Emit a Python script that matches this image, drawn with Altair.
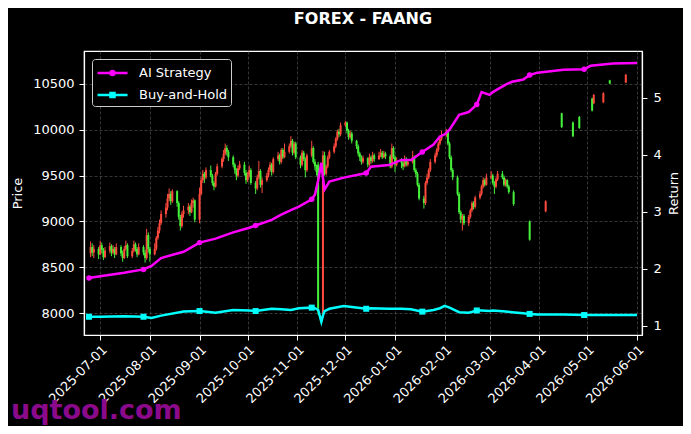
import altair as alt
import pandas as pd

# ---------------- data ----------------
# daily candles (business days 2025-06-25 .. 2026-03-16), one line per week
opens = [
    8650, 8720, 8660,
    8700, 8640, 8740, 8690, 8610,
    8680, 8730, 8660, 8700, 8640,
    8720, 8650, 8600, 8700, 8740,
    8620, 8680, 8750, 8700, 8640,
    8720, 8660, 8600, 8850, 8700,
    8640, 8700, 8820, 8900, 8980,
    9080, 9150, 9250, 9300, 9220,
    9330, 9200, 9050, 8950, 9080,
    9120, 9160, 9100, 9200, 9230,
    9020, 9300, 9450, 9520, 9480,
    9560, 9500, 9420, 9380, 9520,
    9600, 9680, 9740, 9800, 9760,
    9700, 9620, 9560, 9500, 9580,
    9620, 9530, 9450, 9500, 9560,
    9420, 9360, 9480, 9550, 9400,
    9450, 9500, 9560, 9620, 9540,
    9680, 9720, 9650, 9780, 9700,
    9760, 9820, 9880, 9750, 9850,
    9700, 9620, 9750, 9680, 9560,
    9720, 9800, 9650, 9600, 9620,
    8000, 9720, 9520, 9600, 9700,
    9760, 9820, 9900, 9980, 9950,
    10050, 10080, 9990, 9920, 9960,
    9880, 9820, 9740, 9700, 9650,
    9690, 9620, 9700, 9660, 9720,
    9680, 9720, 9750, 9700, 9740,
    9710, 9600, 9800, 9700, 9620,
    9660, 9640, 9600, 9680, 9620,
    9650, 9700, 9560, 9520, 9400,
    9250, 9200, 9420, 9480, 9560,
    9650, 9720, 9780, 9850, 9900,
    9940, 9980, 9850, 9700, 9560,
    9480, 9300, 9100, 9020, 9060,
    8980, 9050, 9120, 9200, 9160,
    9260, 9300, 9380, 9450, 9400,
    9480, 9500, 9420, 9380, 9460,
    9520, 9480, 9400, 9450, 9380,
    9320,
]
highs = [
    8780, 8760, 8740,
    8720, 8790, 8770, 8710, 8720,
    8770, 8750, 8740, 8720, 8760,
    8740, 8680, 8730, 8790, 8760,
    8710, 8790, 8770, 8720, 8760,
    8740, 8690, 8920, 8880, 8720,
    8760, 8840, 8940, 9020, 9120,
    9200, 9300, 9360, 9330, 9350,
    9340, 9220, 9070, 9110, 9170,
    9200, 9180, 9240, 9260, 9240,
    9370, 9480, 9560, 9540, 9590,
    9610, 9520, 9440, 9540, 9630,
    9700, 9780, 9850, 9830, 9780,
    9720, 9640, 9580, 9610, 9660,
    9650, 9560, 9540, 9610, 9580,
    9440, 9510, 9660, 9570, 9480,
    9530, 9590, 9650, 9640, 9700,
    9760, 9740, 9800, 9800, 9850,
    9850, 9930, 9900, 9870, 9870,
    9720, 9780, 9770, 9700, 9740,
    9880, 9820, 9680, 9620, 9650,
    9770, 9760, 9620, 9720, 9780,
    9850, 9920, 10000, 10010, 10080,
    10100, 10090, 10010, 9990, 9980,
    9890, 9840, 9760, 9720, 9720,
    9700, 9740, 9720, 9760, 9740,
    9760, 9790, 9770, 9770, 9760,
    9730, 9850, 9820, 9720, 9700,
    9690, 9660, 9720, 9700, 9680,
    9770, 9720, 9580, 9540, 9420,
    9280, 9440, 9520, 9580, 9680,
    9750, 9800, 9870, 9920, 9990,
    10010, 10000, 9870, 9720, 9580,
    9500, 9320, 9120, 9080, 9080,
    9070, 9140, 9220, 9220, 9280,
    9330, 9400, 9480, 9470, 9520,
    9550, 9520, 9440, 9480, 9550,
    9550, 9500, 9470, 9460, 9400,
    9340,
]
lows = [
    8610, 8620, 8600,
    8590, 8630, 8650, 8580, 8600,
    8650, 8620, 8640, 8600, 8630,
    8620, 8560, 8590, 8680, 8600,
    8600, 8660, 8670, 8610, 8630,
    8630, 8550, 8580, 8660, 8560,
    8630, 8680, 8800, 8870, 8960,
    9040, 9120, 9220, 9180, 9200,
    9160, 9020, 8900, 8930, 9040,
    9080, 9060, 9090, 9150, 8990,
    8980, 9280, 9420, 9420, 9460,
    9480, 9390, 9340, 9370, 9500,
    9580, 9650, 9720, 9720, 9660,
    9590, 9520, 9450, 9480, 9560,
    9500, 9410, 9430, 9480, 9400,
    9300, 9340, 9460, 9370, 9310,
    9430, 9480, 9540, 9500, 9520,
    9660, 9620, 9630, 9680, 9690,
    9740, 9800, 9720, 9730, 9680,
    9580, 9600, 9660, 9480, 9540,
    9700, 9630, 9560, 9500, 7980,
    7960, 9500, 9500, 9580, 9680,
    9740, 9800, 9880, 9920, 9930,
    10030, 9960, 9890, 9900, 9850,
    9790, 9710, 9660, 9620, 9630,
    9590, 9600, 9630, 9640, 9650,
    9670, 9700, 9680, 9690, 9680,
    9580, 9580, 9680, 9540, 9600,
    9580, 9560, 9590, 9600, 9600,
    9630, 9540, 9480, 9380, 9230,
    9140, 9180, 9400, 9460, 9540,
    9630, 9700, 9760, 9830, 9880,
    9920, 9830, 9680, 9540, 9450,
    9280, 9080, 8980, 8900, 8960,
    8950, 9030, 9100, 9130, 9140,
    9240, 9280, 9360, 9380, 9390,
    9460, 9400, 9300, 9360, 9440,
    9460, 9380, 9380, 9360, 9300,
    9170,
]
closes = [
    8720, 8660, 8700,
    8640, 8740, 8690, 8610, 8680,
    8730, 8660, 8700, 8640, 8720,
    8650, 8600, 8700, 8740, 8620,
    8680, 8750, 8700, 8640, 8720,
    8660, 8600, 8850, 8700, 8640,
    8700, 8820, 8900, 8980, 9080,
    9150, 9250, 9300, 9220, 9330,
    9200, 9050, 8950, 9080, 9120,
    9160, 9100, 9200, 9230, 9020,
    9300, 9450, 9520, 9480, 9560,
    9500, 9420, 9380, 9520, 9600,
    9680, 9740, 9800, 9760, 9700,
    9620, 9560, 9500, 9580, 9620,
    9530, 9450, 9500, 9560, 9420,
    9360, 9480, 9550, 9400, 9450,
    9500, 9560, 9620, 9540, 9680,
    9720, 9650, 9780, 9700, 9760,
    9820, 9880, 9750, 9850, 9700,
    9620, 9750, 9680, 9560, 9720,
    9800, 9650, 9600, 9540, 8050,
    9720, 9520, 9600, 9700, 9760,
    9820, 9900, 9980, 9950, 10050,
    10080, 9990, 9920, 9960, 9880,
    9820, 9740, 9700, 9650, 9690,
    9620, 9700, 9660, 9720, 9680,
    9720, 9750, 9700, 9740, 9710,
    9600, 9800, 9700, 9620, 9660,
    9640, 9600, 9680, 9620, 9650,
    9700, 9560, 9520, 9400, 9250,
    9200, 9420, 9480, 9560, 9650,
    9720, 9780, 9850, 9900, 9940,
    9980, 9850, 9700, 9560, 9480,
    9300, 9100, 9020, 9060, 8980,
    9050, 9120, 9200, 9160, 9260,
    9300, 9380, 9450, 9400, 9480,
    9500, 9420, 9380, 9460, 9520,
    9480, 9400, 9450, 9380, 9320,
    9190,
]

# later, sparse candles
sparse_dates = ["2026-03-26", "2026-04-05", "2026-04-15", "2026-04-22", "2026-04-26",
                "2026-05-04", "2026-05-05", "2026-05-11", "2026-05-15", "2026-05-25"]
sparse_open = [9000, 9110, 10180, 10080, 10140, 10340, 10290, 10300, 10540, 10515]
sparse_high = [9010, 9230, 10185, 10090, 10150, 10350, 10390, 10410, 10545, 10610]
sparse_low = [8790, 9100, 10020, 9920, 10010, 10200, 10280, 10290, 10500, 10510]
sparse_close = [8800, 9220, 10030, 9930, 10020, 10210, 10380, 10400, 10505, 10600]

# cumulative return series
ret_dates = ["2025-06-24", "2025-07-01", "2025-07-16", "2025-07-28", "2025-08-02", "2025-08-08",
             "2025-08-22", "2025-09-01", "2025-09-11", "2025-09-22", "2025-10-02", "2025-10-06",
             "2025-10-16", "2025-10-22", "2025-10-28", "2025-11-02", "2025-11-10", "2025-11-12",
             "2025-11-14", "2025-11-16", "2025-11-17", "2025-11-18", "2025-11-21", "2025-11-30",
             "2025-12-14", "2025-12-17", "2025-12-28", "2026-01-05", "2026-01-11", "2026-01-18",
             "2026-01-25", "2026-01-29", "2026-02-01", "2026-02-04", "2026-02-10", "2026-02-16",
             "2026-02-21", "2026-02-24", "2026-03-01", "2026-03-03", "2026-03-11", "2026-03-15",
             "2026-03-22", "2026-03-26", "2026-03-31", "2026-04-16", "2026-04-29", "2026-05-03",
             "2026-05-17", "2026-06-01"]
ai_strategy = [1.84, 1.87, 1.93, 1.99, 2.05, 2.19,
               2.30, 2.46, 2.53, 2.64, 2.72, 2.76,
               2.86, 2.95, 3.03, 3.09, 3.22, 3.30,
               3.55, 3.86, 3.60, 3.39, 3.53, 3.60,
               3.68, 3.79, 3.82, 3.91, 3.91, 4.05,
               4.18, 4.32, 4.36, 4.44, 4.70, 4.75,
               4.88, 5.10, 5.05, 5.10, 5.23, 5.28,
               5.32, 5.40, 5.44, 5.49, 5.50, 5.56,
               5.60, 5.61]
buy_hold = [1.16, 1.16, 1.17, 1.16, 1.14, 1.18,
            1.25, 1.26, 1.23, 1.28, 1.27, 1.26,
            1.30, 1.29, 1.28, 1.31, 1.32, 1.31,
            1.28, 1.07, 1.18, 1.26, 1.30, 1.35,
            1.30, 1.31, 1.30, 1.30, 1.29, 1.25,
            1.28, 1.31, 1.35, 1.32, 1.24, 1.23,
            1.27, 1.27, 1.26, 1.27, 1.25, 1.24,
            1.22, 1.21, 1.20, 1.20, 1.19, 1.19,
            1.19, 1.19]
marker_dates = ["2025-06-24", "2025-07-28", "2025-09-01", "2025-10-06", "2025-11-10",
                "2025-12-14", "2026-01-18", "2026-02-21", "2026-03-26", "2026-04-29"]

series_names = ["AI Strategy", "Buy-and-Hold"]
series_colors = ["#ff00ff", "#00ffff"]
price_ticks = [8000, 8500, 9000, 9500, 10000, 10500]
return_ticks = [1, 2, 3, 4, 5]
month_ticks = [(2025, 7), (2025, 8), (2025, 9), (2025, 10), (2025, 11), (2025, 12),
               (2026, 1), (2026, 2), (2026, 3), (2026, 4), (2026, 5), (2026, 6)]

UP = "#ff4a3d"    # rising candle (red)
DOWN = "#45f03a"  # falling candle (green)

# ---------------- tables ----------------
main_dates = pd.bdate_range("2025-06-25", "2026-03-16").strftime("%Y-%m-%d").tolist()
n = min(len(main_dates), len(opens), len(highs), len(lows), len(closes))
cdf = pd.DataFrame({
    "date": main_dates[:n] + sparse_dates,
    "o": opens[:n] + sparse_open,
    "h": highs[:n] + sparse_high,
    "l": lows[:n] + sparse_low,
    "c": closes[:n] + sparse_close,
})
cdf["col"] = [UP if c >= o else DOWN for o, c in zip(cdf["o"], cdf["c"])]

rdf = pd.concat([
    pd.DataFrame({"date": ret_dates, "series": series_names[0], "value": ai_strategy}),
    pd.DataFrame({"date": ret_dates, "series": series_names[1], "value": buy_hold}),
], ignore_index=True)
mdf = rdf[rdf["date"].isin(marker_dates)]
mdf_ai = mdf[mdf["series"] == series_names[0]]
mdf_bh = mdf[mdf["series"] == series_names[1]]
ldf = pd.DataFrame({"date": ["2024-01-01", "2024-01-01"], "series": series_names, "value": [3, 3]})

# ---------------- encodings ----------------
FONT = "DejaVu Sans"
def dt(y, m, d=1):
    return alt.DateTime(year=y, month=m, date=d, utc=True)

xscale = alt.Scale(type="utc", domain=[dt(2025, 6, 24), dt(2026, 6, 1)], nice=False)
xaxis = alt.Axis(values=[dt(y, m) for y, m in month_ticks], format="%Y-%m-%d",
                 labelAngle=315, labelAlign="right", labelBaseline="top", labelPadding=3,
                 labelOverlap=False, labelFontSize=13, grid=True, title=None)
x_enc = alt.X("date:T", scale=xscale, axis=xaxis)

pscale = alt.Scale(domain=[7760, 10860], nice=False, zero=False)
paxis = alt.Axis(values=price_ticks, format="d", grid=True, title="Price", titlePadding=8,
                 labelPadding=5)
rscale = alt.Scale(domain=[0.84, 5.82], nice=False, zero=False)
raxis = alt.Axis(values=return_ticks, format="d", grid=False, orient="right", title="Return",
                 titleAngle=270, titleBaseline="top", titlePadding=6, labelPadding=6)

cscale = alt.Scale(domain=series_names, range=series_colors)

wick = alt.Chart(cdf).mark_rule(strokeWidth=1).encode(
    x=x_enc, y=alt.Y("l:Q", scale=pscale, axis=paxis), y2="h:Q",
    color=alt.Color("col:N", scale=None))
body = alt.Chart(cdf).mark_bar(size=2).encode(
    x=x_enc, y=alt.Y("o:Q", scale=pscale, axis=paxis), y2="c:Q",
    color=alt.Color("col:N", scale=None))
candles = alt.layer(wick, body)

yr = alt.Y("value:Q", scale=rscale, axis=raxis)
lines = alt.Chart(rdf).mark_line(strokeWidth=2.5).encode(
    x=x_enc, y=yr, color=alt.Color("series:N", scale=cscale, legend=None))
pts_ai = alt.Chart(mdf_ai).mark_point(shape="circle", filled=True, size=30, opacity=1).encode(
    x=x_enc, y=yr, color=alt.value(series_colors[0]))
pts_bh = alt.Chart(mdf_bh).mark_point(shape="square", filled=True, size=36, opacity=1).encode(
    x=x_enc, y=yr, color=alt.value(series_colors[1]))

path_ai = "M-0.94,0H2.39M0.94,0A0.22,0.22,0,1,1,0.5,0A0.22,0.22,0,1,1,0.94,0Z"
path_bh = "M-0.94,0H2.39M0.5,-0.22H0.94V0.22H0.5Z"
leg = alt.Legend(orient="top-left", offset=7.5, padding=3.5, fillColor="black",
                 strokeColor="#cccccc", cornerRadius=3, symbolSize=324, symbolStrokeWidth=2.5,
                 rowPadding=4, labelOffset=22.5, labelFontSize=13, labelColor="white",
                 labelFont=FONT)
legend_layer = alt.Chart(ldf).mark_point(filled=False, strokeWidth=2.5, opacity=1, clip=True).encode(
    x=x_enc, y=yr,
    color=alt.Color("series:N", scale=cscale, legend=leg, title=None),
    shape=alt.Shape("series:N", scale=alt.Scale(domain=series_names, range=[path_ai, path_bh]),
                    legend=leg, title=None))

returns = alt.layer(lines, pts_ai, pts_bh, legend_layer).resolve_scale(
    color="independent", shape="independent")

wm = alt.Chart(alt.Data(values=[{"t": "uqtool.com"}])).mark_text(
    text="uqtool.com", font=FONT, fontSize=27, fontWeight="bold", color="#8b0a8b",
    align="left", baseline="alphabetic").encode(x=alt.value(-73), y=alt.value(368))

chart = alt.layer(candles, returns, wm).resolve_scale(
    y="independent", color="independent", shape="independent"
).properties(
    width=558, height=284,
    title=alt.TitleParams("FOREX - FAANG", font=FONT, fontSize=16, fontWeight="bold",
                          color="white", anchor="middle", offset=24),
    background="black",
    padding={"left": 76, "top": 43, "right": 41, "bottom": 91},
    autosize="none",
).configure_axis(
    labelColor="white", titleColor="white", domainColor="white", tickColor="white",
    labelFont=FONT, titleFont=FONT, labelFontSize=13, titleFontSize=13,
    titleFontWeight="normal", gridColor="#5a5a5a", gridDash=[3, 2], gridWidth=0.6,
    tickSize=5, domainWidth=1.2,
).configure_view(stroke="white", strokeWidth=1.2)

chart.save("out.html", embed_options={"renderer": "svg", "actions": False})
